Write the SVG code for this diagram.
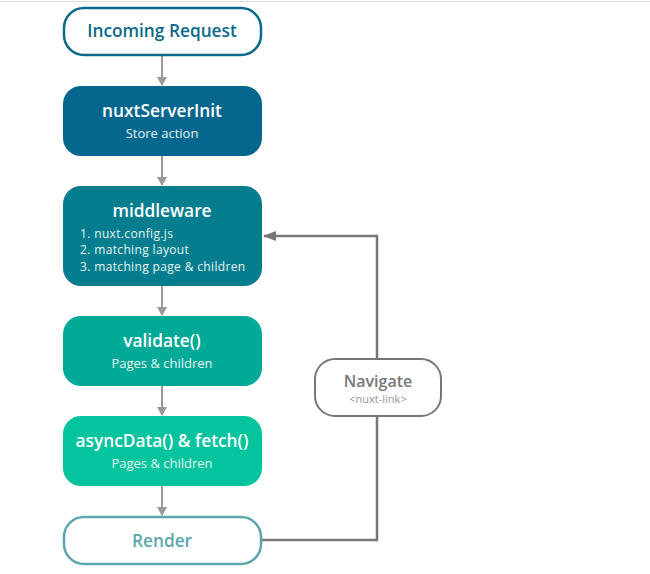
<svg xmlns="http://www.w3.org/2000/svg" width="650" height="574" viewBox="0 0 650 574">
<defs>
<style>
.t{font-family:"Open Sans","Noto Sans","Liberation Sans",sans-serif;text-anchor:middle}
.h{font-size:17.3px;font-weight:600}
.s{font-size:13px;fill:#e8f4f4}
.w{fill:#ffffff}
.li{font-family:"Open Sans","Noto Sans","Liberation Sans",sans-serif;font-size:12px;letter-spacing:0.35px;fill:#e8f4f4}
.c{fill:none;stroke:#999;stroke-width:2}
.g{fill:none;stroke:#777;stroke-width:2.5}
</style>
<marker id="a" markerWidth="10" markerHeight="10" refX="8" refY="5" orient="auto" markerUnits="userSpaceOnUse">
<path d="M0,0 L9,5 L0,10 Z" fill="#999"/>
</marker>
<marker id="b" markerWidth="14" markerHeight="10" refX="12" refY="5" orient="auto" markerUnits="userSpaceOnUse">
<path d="M0,0 L13,5 L0,10 Z" fill="#777"/>
</marker>
</defs>
<rect width="650" height="574" fill="#fff"/>
<line x1="0" y1="1.5" x2="650" y2="1.5" stroke="#ddd" stroke-width="1"/>
<g id="connectors">
<line class="c" x1="162" y1="56" x2="162" y2="85" marker-end="url(#a)"/>
<line class="c" x1="162" y1="156" x2="162" y2="185" marker-end="url(#a)"/>
<line class="c" x1="162" y1="286" x2="162" y2="315" marker-end="url(#a)"/>
<line class="c" x1="162" y1="386" x2="162" y2="415" marker-end="url(#a)"/>
<line class="c" x1="162" y1="486" x2="162" y2="515" marker-end="url(#a)"/>
<polyline class="g" points="262,540 377,540 377,416"/>
<polyline class="g" points="377,358 377,236 264,236" marker-end="url(#b)"/>
</g>
<g id="incoming">
<rect x="64" y="8" width="197" height="47" rx="20" fill="#fff" stroke="#0b6a8b" stroke-width="2.5"/>
<text class="t h" x="162" y="37" fill="#0b6a8b">Incoming Request</text>
</g>
<g id="nuxtServerInit">
<rect x="63" y="86" width="199" height="70" rx="18" fill="#05678e"/>
<text class="t h w" x="162" y="117">nuxtServerInit</text>
<text class="t s" x="162" y="138">Store action</text>
</g>
<g id="middleware">
<rect x="63" y="186" width="199" height="100" rx="18" fill="#047e8e"/>
<text class="t h w" x="162" y="217">middleware</text>
<text class="li" x="80" y="237.5">1. nuxt.config.js</text>
<text class="li" x="80" y="254">2. matching layout</text>
<text class="li" x="80" y="270.5">3. matching page &amp; children</text>
</g>
<g id="validate">
<rect x="63" y="316" width="199" height="70" rx="18" fill="#01a997"/>
<text class="t h w" x="162" y="347">validate()</text>
<text class="t s" x="162" y="368">Pages &amp; children</text>
</g>
<g id="asyncData">
<rect x="63" y="416" width="199" height="70" rx="18" fill="#03c49d"/>
<text class="t h w" x="162" y="447">asyncData() &amp; fetch()</text>
<text class="t s" x="162" y="468">Pages &amp; children</text>
</g>
<g id="render">
<rect x="64" y="517" width="197" height="47" rx="20" fill="#fff" stroke="#5ea6ae" stroke-width="2.5"/>
<text class="t h" x="162" y="547" fill="#5ea6ae">Render</text>
</g>
<g id="navigate">
<rect x="315" y="359" width="126" height="57" rx="20" fill="#fff" stroke="#777" stroke-width="2"/>
<text class="t" x="378" y="387" font-size="16" font-weight="600" fill="#777">Navigate</text>
<text class="t" x="378" y="403" font-size="11" fill="#999">&lt;nuxt-link&gt;</text>
</g>
</svg>
